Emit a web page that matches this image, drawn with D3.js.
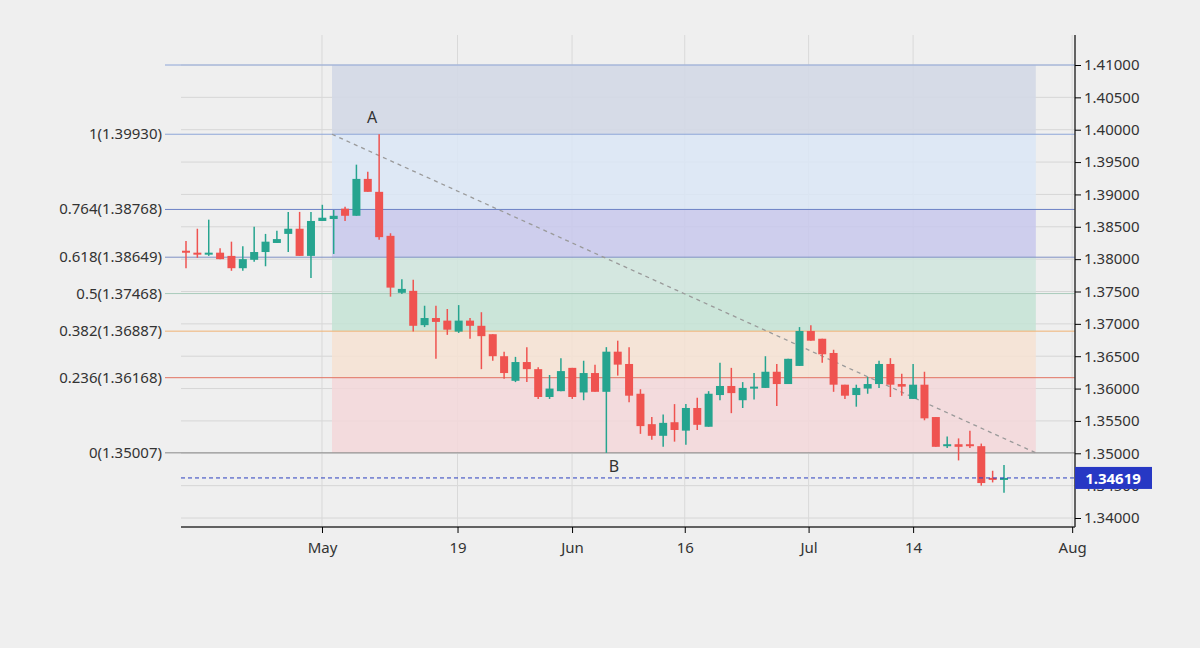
<!DOCTYPE html>
<html><head><meta charset="utf-8">
<script src="https://cdn.jsdelivr.net/npm/d3@7"></script>
<style>body{margin:0;background:#efefef;}svg{display:block;font-family:"Noto Sans",sans-serif;}</style>
</head><body><svg id="chart"></svg>
<script>
// candles: [open, high, low, close], one per trading day
const opens  = [1.3813,1.3810,1.3810,1.3810,1.3805,1.3786,1.3799,1.3811,1.3825,1.3839,1.3847,1.3805,1.3859,1.3862,1.3878,1.3867,1.3924,1.3904,1.3836,1.3748,1.3751,1.3698,1.3709,1.3705,1.3688,1.3705,1.3697,1.3684,1.3650,1.3612,1.3641,1.3630,1.3587,1.3596,1.3632,1.3594,1.3624,1.3595,1.3657,1.3638,1.3592,1.3545,1.3527,1.3548,1.3535,1.3570,1.3541,1.3590,1.3604,1.3582,1.3601,1.3601,1.3626,1.3607,1.3635,1.3689,1.3677,1.3655,1.3606,1.3590,1.3600,1.3607,1.3638,1.3607,1.3584,1.3606,1.3556,1.3512,1.3514,1.3514,1.3511,1.3462,1.34605];
const highs  = [1.3828,1.3847,1.3861,1.3817,1.3827,1.3820,1.3850,1.3839,1.3844,1.3873,1.3873,1.3873,1.3884,1.3876,1.3881,1.3946,1.3935,1.3993,1.3840,1.3769,1.3768,1.3728,1.3728,1.3723,1.3729,1.3709,1.3718,1.3684,1.3657,1.3649,1.3664,1.3633,1.3621,1.3647,1.3632,1.3643,1.3637,1.3664,1.3674,1.3664,1.3599,1.3556,1.3560,1.3576,1.3576,1.3586,1.3596,1.3640,1.3632,1.3610,1.3624,1.3650,1.3638,1.3646,1.3695,1.3698,1.3677,1.3660,1.3606,1.3606,1.3618,1.3643,1.3647,1.3623,1.3638,1.3626,1.3556,1.3526,1.3523,1.3535,1.3515,1.3473,1.3482];
const lows   = [1.3786,1.3802,1.3805,1.3800,1.3782,1.3782,1.3796,1.3789,1.3825,1.3811,1.3805,1.3771,1.3859,1.3808,1.3859,1.3867,1.3904,1.3830,1.3742,1.3746,1.3688,1.3695,1.3646,1.3683,1.3686,1.3677,1.3630,1.3643,1.3615,1.3610,1.3610,1.3584,1.3584,1.3596,1.3584,1.3582,1.3595,1.35007,1.3620,1.3579,1.3530,1.3521,1.3510,1.3518,1.3513,1.3536,1.3541,1.3582,1.3562,1.3570,1.3583,1.3601,1.3573,1.3607,1.3635,1.3674,1.3640,1.3595,1.3584,1.3572,1.3592,1.3601,1.3587,1.3589,1.3584,1.3551,1.3510,1.3508,1.3489,1.3508,1.3450,1.3455,1.3439];
const closes = [1.3810,1.3809,1.3810,1.3800,1.3786,1.3800,1.3811,1.3827,1.3831,1.3847,1.3805,1.3859,1.3864,1.3867,1.3867,1.3924,1.3904,1.3834,1.3756,1.3754,1.3697,1.3709,1.3703,1.3691,1.3705,1.3697,1.3681,1.3650,1.3624,1.3641,1.3630,1.3587,1.3600,1.3627,1.3587,1.3624,1.3595,1.3657,1.3637,1.3589,1.3542,1.3527,1.3547,1.3536,1.3570,1.3544,1.3592,1.3604,1.3593,1.3601,1.3603,1.3626,1.3607,1.3646,1.3689,1.3674,1.3653,1.3606,1.3589,1.3601,1.3607,1.3638,1.3606,1.3603,1.3606,1.3554,1.3510,1.3514,1.3510,1.3511,1.3454,1.3459,1.34619];

const xTickLabels = ["May","19","Jun","16","Jul","14","Aug"];
const xTickIndex  = [11.97,23.9,33.98,43.9,54.8,64.0,78.0];
const yTicks = d3.range(1.34, 1.4101, 0.005);

const fibLabels = ["1(1.39930)","0.764(1.38768)","0.618(1.38649)","0.5(1.37468)","0.382(1.36887)","0.236(1.36168)","0(1.35007)"];
const fibPrices = [1.39930,1.38768,1.38030,1.37468,1.36887,1.36168,1.35007];
const fibLineColors = ["#8ea6d8","#6d82c6","#7f90c4","#a9cbbb","#f0b274","#e27260","#8a8a8a"];
const fibBandColors = ["#dbe6f6","#c8c8ec","#cfe5dd","#c4e3d5","#f6e2d2","#f3d7d9"];
const topLevel = 1.41;
const lastPrice = 1.34619;
const pointA = {i: 12.85, p: 1.39930}, pointB = {i: 74.8, p: 1.35007};

const W = 1200, H = 648;
const svg = d3.select("#chart").attr("width", W).attr("height", H);
const x = d3.scaleLinear().domain([0, 72]).range([186, 1004]);
const y = d3.scaleLinear().domain([1.34, 1.41]).range([518, 65]);
const pLeft = 181, pRight = 1075, pTop = 35, pBottom = 527;

// grid
svg.append("g").selectAll("line").data(yTicks).join("line")
  .attr("x1", pLeft).attr("x2", pRight).attr("y1", d => y(d)).attr("y2", d => y(d))
  .attr("stroke", "#d6d6d6");
svg.append("g").selectAll("line").data(xTickIndex).join("line")
  .attr("x1", d => x(d)).attr("x2", d => x(d)).attr("y1", pTop).attr("y2", pBottom)
  .attr("stroke", "#d9d9d9");

// fib bands
const bx0 = x(pointA.i), bx1 = x(pointB.i);
svg.append("rect").attr("x", bx0).attr("width", bx1 - bx0)
  .attr("y", y(topLevel)).attr("height", y(fibPrices[0]) - y(topLevel)).attr("fill", "#d3d8e6").attr("opacity", 0.9);
svg.append("g").selectAll("rect").data(fibBandColors).join("rect")
  .attr("x", bx0).attr("width", bx1 - bx0)
  .attr("y", (d, i) => y(fibPrices[i])).attr("height", (d, i) => y(fibPrices[i + 1]) - y(fibPrices[i]))
  .attr("fill", d => d).attr("opacity", 0.85);

// fib lines & labels
svg.append("line").attr("x1", 165).attr("x2", pRight).attr("y1", y(topLevel)).attr("y2", y(topLevel)).attr("stroke", "#8ea6d8");
svg.append("g").selectAll("line").data(fibPrices).join("line")
  .attr("x1", 165).attr("x2", pRight).attr("y1", d => y(d)).attr("y2", d => y(d))
  .attr("stroke", (d, i) => fibLineColors[i]).attr("stroke-width", 1);
svg.append("g").selectAll("text").data(fibLabels).join("text")
  .attr("x", 162).attr("y", (d, i) => y(fibPrices[i]) + 5).attr("text-anchor", "end")
  .attr("font-size", 15).attr("fill", "#333").text(d => d);

// trend line
svg.append("line").attr("x1", x(pointA.i)).attr("y1", y(pointA.p)).attr("x2", x(pointB.i)).attr("y2", y(pointB.p))
  .attr("stroke", "#9a9a9a").attr("stroke-width", 1.3).attr("stroke-dasharray", "4,4");
svg.append("text").attr("x", 372).attr("y", 123).attr("text-anchor", "middle").attr("font-size", 16).attr("fill", "#333").text("A");
svg.append("text").attr("x", 614).attr("y", 472).attr("text-anchor", "middle").attr("font-size", 16).attr("fill", "#333").text("B");

// candles
const idx = d3.range(opens.length);
const col = i => closes[i] >= opens[i] ? "#26a48f" : "#ef5350";
const cg = svg.append("g");
cg.selectAll("line").data(idx).join("line")
  .attr("x1", i => x(i)).attr("x2", i => x(i)).attr("y1", i => y(highs[i])).attr("y2", i => y(lows[i]))
  .attr("stroke", col).attr("stroke-width", 1.5);
cg.selectAll("rect").data(idx).join("rect")
  .attr("x", i => x(i) - 4).attr("width", 8)
  .attr("y", i => y(Math.max(opens[i], closes[i])))
  .attr("height", i => Math.max(2, Math.abs(y(opens[i]) - y(closes[i]))))
  .attr("fill", col);

// last price line
svg.append("line").attr("x1", pLeft).attr("x2", pRight).attr("y1", y(lastPrice)).attr("y2", y(lastPrice))
  .attr("stroke", "#2b3fbf").attr("stroke-dasharray", "4,3");

// axes
const yAxis = svg.append("g").attr("transform", `translate(${pRight},0)`)
  .call(d3.axisRight(y).tickValues(yTicks).tickFormat(d3.format(".5f")).tickSize(6));
yAxis.select(".domain").attr("d", `M0,${pTop}V${pBottom}`).attr("stroke", "#333").attr("stroke-width", 1.5);
yAxis.selectAll("text").attr("font-size", 15).attr("fill", "#333").attr("font-family", "Noto Sans");
const xAxis = svg.append("g").attr("transform", `translate(0,${pBottom})`)
  .call(d3.axisBottom(x).tickValues(xTickIndex).tickFormat((d, i) => xTickLabels[i]).tickSize(6));
xAxis.select(".domain").attr("d", `M${pLeft},0H${pRight}`).attr("stroke", "#333").attr("stroke-width", 1.5);
xAxis.selectAll("text").attr("font-size", 15).attr("fill", "#333").attr("dy", "1.1em").attr("font-family", "Noto Sans");

// price tag
svg.append("rect").attr("x", pRight).attr("y", y(lastPrice) - 11).attr("width", 77).attr("height", 22).attr("fill", "#2738c4");
svg.append("text").attr("x", pRight + 38).attr("y", y(lastPrice) + 6).attr("text-anchor", "middle")
  .attr("font-size", 15).attr("font-weight", "bold").attr("fill", "#fff").text(d3.format(".5f")(lastPrice));
</script></body></html>
